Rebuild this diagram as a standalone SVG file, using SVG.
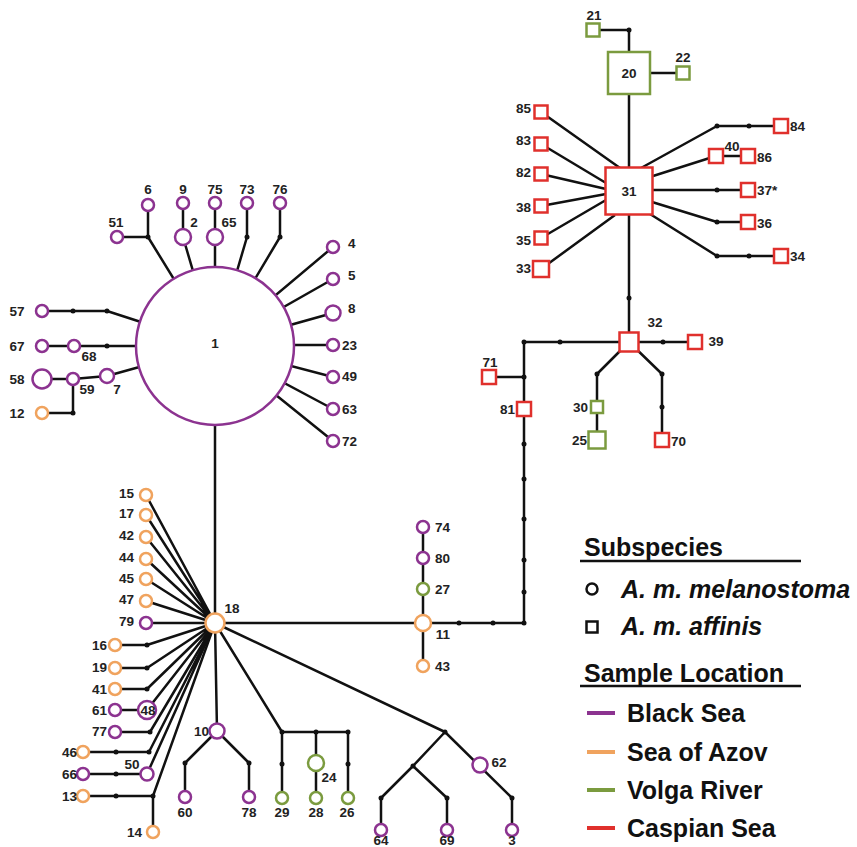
<svg xmlns="http://www.w3.org/2000/svg" width="857" height="847" viewBox="0 0 857 847">
<style>
.ln{stroke:#111;stroke-width:2.5;fill:none;stroke-linejoin:round}
.dot{fill:#111}
.bs{fill:#fff;stroke:#8c3390;stroke-width:2.5}
.az{fill:#fff;stroke:#f0a35e;stroke-width:2.5}
.vr{fill:#fff;stroke:#7b9b3f;stroke-width:2.5}
.cs{fill:#fff;stroke:#e0302c;stroke-width:2.5}
.t{font-family:"Liberation Sans",Arial,sans-serif;font-weight:bold;font-size:13.5px;fill:#222;dominant-baseline:central}
.m{text-anchor:middle}
.e{text-anchor:end}
.lg{font-family:"Liberation Sans",Arial,sans-serif;font-weight:bold;font-size:25px;fill:#111}
</style>
<rect width="857" height="847" fill="#fff"/>
<g id="connectors">
<path class="ln" d="M117,237H148V205M148,237L215,346"/>
<path class="ln" d="M183,203V237L215,346"/>
<path class="ln" d="M215,203V346"/>
<path class="ln" d="M247,203V237L215,346"/>
<path class="ln" d="M280,203V237L215,346"/>
<path class="ln" d="M333,247L215,346M333,279L215,346M333,313L215,346M333,345H215M333,377L215,346M333,409L215,346M333,441L215,346"/>
<path class="ln" d="M42,311H107L215,346"/>
<path class="ln" d="M42,346H215"/>
<path class="ln" d="M42,379H73L107,376L215,346"/>
<path class="ln" d="M42,413H73V379"/>
<path class="ln" d="M215,346V623"/>
<path class="ln" d="M146,495L215,623M146,515L215,623M146,537L215,623M146,559L215,623M146,579L215,623M146,601L215,623M146,623H215"/>
<path class="ln" d="M115,645H147L215,623M115,668H147L215,623M115,689H147L215,623"/>
<path class="ln" d="M115,710H147L215,623M115,732H150L215,623"/>
<path class="ln" d="M83,752H149L215,623M83,774H147L215,623"/>
<path class="ln" d="M83,796H153L215,623M153,796V832"/>
<path class="ln" d="M215,623L217,731M217,731L185,763V797M217,731L249,763V797"/>
<path class="ln" d="M215,623L282,732H348V798M282,732V798M316,732V798"/>
<path class="ln" d="M215,623L445,732L512,798V830M445,732L413,766L381,798V830M413,766L447,798V830"/>
<path class="ln" d="M215,623H524V342H629M423,527V666"/>
<path class="ln" d="M489,377H524"/>
<path class="ln" d="M629,342H695M629,342L597,374V440M629,342L662,374V440"/>
<path class="ln" d="M629,342V30H593M629,73H683"/>
<path class="ln" d="M541,112L620,168M541,144L606,183M541,174L606,189M541,206L606,194M541,238L606,200M541,269L615,215"/>
<path class="ln" d="M641,168L717,126H781M653,176L716,156H748M652,190H748M652,202L717,222H748M650,214L717,256H781"/>
<g class="dot">
<circle cx="148" cy="237" r="2.5"/><circle cx="247" cy="237" r="2.5"/><circle cx="280" cy="237" r="2.5"/>
<circle cx="73" cy="311" r="2.5"/><circle cx="107" cy="311" r="2.5"/><circle cx="107" cy="346" r="2.5"/><circle cx="73" cy="413" r="2.5"/>
<circle cx="147" cy="645" r="2.5"/><circle cx="147" cy="668" r="2.5"/><circle cx="147" cy="689" r="2.5"/><circle cx="150" cy="732" r="2.5"/>
<circle cx="116" cy="752" r="2.5"/><circle cx="149" cy="752" r="2.5"/><circle cx="116" cy="774" r="2.5"/><circle cx="116" cy="796" r="2.5"/><circle cx="153" cy="796" r="2.5"/>
<circle cx="185" cy="763" r="2.5"/><circle cx="249" cy="763" r="2.5"/>
<circle cx="282" cy="732" r="2.5"/><circle cx="316" cy="732" r="2.5"/><circle cx="348" cy="732" r="2.5"/><circle cx="282" cy="764" r="2.5"/><circle cx="348" cy="764" r="2.5"/>
<circle cx="445" cy="732" r="2.5"/><circle cx="413" cy="766" r="2.5"/><circle cx="381" cy="798" r="2.5"/><circle cx="447" cy="798" r="2.5"/><circle cx="512" cy="798" r="2.5"/>
<circle cx="459" cy="623" r="2.5"/><circle cx="493" cy="623" r="2.5"/><circle cx="524" cy="623" r="2.5"/>
<circle cx="524" cy="592" r="2.5"/><circle cx="524" cy="560" r="2.5"/><circle cx="524" cy="519" r="2.5"/><circle cx="524" cy="479" r="2.5"/><circle cx="524" cy="444" r="2.5"/>
<circle cx="524" cy="377" r="2.5"/><circle cx="524" cy="342" r="2.5"/><circle cx="560" cy="342" r="2.5"/>
<circle cx="663" cy="342" r="2.5"/><circle cx="597" cy="374" r="2.5"/><circle cx="662" cy="374" r="2.5"/><circle cx="662" cy="407" r="2.5"/>
<circle cx="629" cy="298" r="2.5"/><circle cx="629" cy="30" r="2.5"/>
<circle cx="717" cy="126" r="2.5"/><circle cx="749" cy="126" r="2.5"/><circle cx="717" cy="190" r="2.5"/><circle cx="717" cy="222" r="2.5"/><circle cx="717" cy="256" r="2.5"/><circle cx="749" cy="256" r="2.5"/>
</g>
</g>
<g id="n1"><circle class="bs" cx="215" cy="346" r="79"/><text class="t m" x="215" y="343">1</text></g>
<g id="n6"><circle class="bs" cx="148" cy="205" r="6"/><text class="t m" x="148" y="189">6</text></g>
<g id="n51"><circle class="bs" cx="117" cy="237" r="6"/><text class="t m" x="116" y="222">51</text></g>
<g id="n9"><circle class="bs" cx="183" cy="203" r="6"/><text class="t m" x="183" y="189">9</text></g>
<g id="n2"><circle class="bs" cx="183" cy="237" r="8"/><text class="t m" x="194" y="222">2</text></g>
<g id="n75"><circle class="bs" cx="215" cy="203" r="6"/><text class="t m" x="215" y="189">75</text></g>
<g id="n65"><circle class="bs" cx="215" cy="237" r="8"/><text class="t m" x="229" y="222">65</text></g>
<g id="n73"><circle class="bs" cx="247" cy="203" r="6"/><text class="t m" x="247" y="189">73</text></g>
<g id="n76"><circle class="bs" cx="280" cy="203" r="6"/><text class="t m" x="280" y="189">76</text></g>
<g id="n4"><circle class="bs" cx="333" cy="247" r="6"/><text class="t" x="348" y="243">4</text></g>
<g id="n5"><circle class="bs" cx="333" cy="279" r="6"/><text class="t" x="348" y="275">5</text></g>
<g id="n8"><circle class="bs" cx="333" cy="313" r="7.5"/><text class="t" x="348" y="308">8</text></g>
<g id="n23"><circle class="bs" cx="333" cy="345" r="6"/><text class="t" x="342" y="345">23</text></g>
<g id="n49"><circle class="bs" cx="333" cy="377" r="6"/><text class="t" x="342" y="376">49</text></g>
<g id="n63"><circle class="bs" cx="333" cy="409" r="6"/><text class="t" x="342" y="409">63</text></g>
<g id="n72"><circle class="bs" cx="333" cy="441" r="6"/><text class="t" x="342" y="441">72</text></g>
<g id="n57"><circle class="bs" cx="42" cy="311" r="6"/><text class="t m" x="17" y="311">57</text></g>
<g id="n67"><circle class="bs" cx="42" cy="346" r="6"/><text class="t m" x="17" y="346">67</text></g>
<g id="n68"><circle class="bs" cx="74" cy="346" r="6"/><text class="t m" x="89" y="356">68</text></g>
<g id="n58"><circle class="bs" cx="42" cy="379" r="9.5"/><text class="t m" x="17" y="379">58</text></g>
<g id="n59"><circle class="bs" cx="73" cy="379" r="6"/><text class="t m" x="87" y="389">59</text></g>
<g id="n7"><circle class="bs" cx="107" cy="376" r="7"/><text class="t m" x="117" y="389">7</text></g>
<g id="n12"><circle class="az" cx="42" cy="413" r="6"/><text class="t m" x="17" y="413">12</text></g>
<g id="n18"><circle class="az" cx="215" cy="623" r="9.5"/><text class="t m" x="232" y="608">18</text></g>
<g id="n15"><circle class="az" cx="146" cy="495" r="6"/><text class="t e" x="134" y="493">15</text></g>
<g id="n17"><circle class="az" cx="146" cy="515" r="6"/><text class="t e" x="134" y="513">17</text></g>
<g id="n42"><circle class="az" cx="146" cy="537" r="6"/><text class="t e" x="134" y="535">42</text></g>
<g id="n44"><circle class="az" cx="146" cy="559" r="6"/><text class="t e" x="134" y="557">44</text></g>
<g id="n45"><circle class="az" cx="146" cy="579" r="6"/><text class="t e" x="134" y="578">45</text></g>
<g id="n47"><circle class="az" cx="146" cy="601" r="6"/><text class="t e" x="134" y="599">47</text></g>
<g id="n79"><circle class="bs" cx="146" cy="623" r="6"/><text class="t e" x="134" y="621">79</text></g>
<g id="n16"><circle class="az" cx="115" cy="645" r="6"/><text class="t e" x="107" y="645">16</text></g>
<g id="n19"><circle class="az" cx="115" cy="668" r="6"/><text class="t e" x="107" y="667">19</text></g>
<g id="n41"><circle class="az" cx="115" cy="689" r="6"/><text class="t e" x="107" y="689">41</text></g>
<g id="n61"><circle class="bs" cx="115" cy="710" r="6"/><text class="t e" x="107" y="710">61</text></g>
<g id="n48"><circle class="bs" cx="147" cy="710" r="9"/><text class="t m" x="148" y="710">48</text></g>
<g id="n77"><circle class="bs" cx="115" cy="732" r="6"/><text class="t e" x="107" y="731">77</text></g>
<g id="n46"><circle class="az" cx="83" cy="752" r="6"/><text class="t e" x="77" y="752">46</text></g>
<g id="n66"><circle class="bs" cx="83" cy="774" r="6"/><text class="t e" x="77" y="774">66</text></g>
<g id="n50"><circle class="bs" cx="147" cy="774" r="6.5"/><text class="t m" x="132" y="764">50</text></g>
<g id="n13"><circle class="az" cx="83" cy="796" r="6"/><text class="t e" x="77" y="796">13</text></g>
<g id="n14"><circle class="az" cx="153" cy="832" r="6"/><text class="t e" x="142" y="832">14</text></g>
<g id="n10"><circle class="bs" cx="217" cy="731" r="7.5"/><text class="t e" x="209" y="731">10</text></g>
<g id="n60"><circle class="bs" cx="185" cy="797" r="6"/><text class="t m" x="185" y="812">60</text></g>
<g id="n78"><circle class="bs" cx="249" cy="797" r="6"/><text class="t m" x="249" y="812">78</text></g>
<g id="n29"><circle class="vr" cx="282" cy="798" r="6"/><text class="t m" x="282" y="812">29</text></g>
<g id="n24"><circle class="vr" cx="316" cy="763" r="8"/><text class="t m" x="329" y="777">24</text></g>
<g id="n28"><circle class="vr" cx="316" cy="798" r="6"/><text class="t m" x="316" y="812">28</text></g>
<g id="n26"><circle class="vr" cx="348" cy="798" r="6"/><text class="t m" x="347" y="812">26</text></g>
<g id="n62"><circle class="bs" cx="480" cy="765" r="7.5"/><text class="t m" x="499" y="762">62</text></g>
<g id="n64"><circle class="bs" cx="381" cy="830" r="6"/><text class="t m" x="381" y="840">64</text></g>
<g id="n69"><circle class="bs" cx="447" cy="830" r="6"/><text class="t m" x="447" y="840">69</text></g>
<g id="n3"><circle class="bs" cx="512" cy="830" r="6"/><text class="t m" x="512" y="840">3</text></g>
<g id="n11"><circle class="az" cx="423" cy="623" r="8"/><text class="t m" x="443" y="634">11</text></g>
<g id="n43"><circle class="az" cx="423" cy="666" r="6"/><text class="t" x="435" y="666">43</text></g>
<g id="n27"><circle class="vr" cx="423" cy="589" r="6"/><text class="t" x="435" y="589">27</text></g>
<g id="n80"><circle class="bs" cx="423" cy="558" r="6"/><text class="t" x="435" y="558">80</text></g>
<g id="n74"><circle class="bs" cx="423" cy="527" r="6"/><text class="t" x="435" y="527">74</text></g>
<g id="n81"><rect class="cs" x="517" y="402" width="14" height="14"/><text class="t e" x="515" y="409">81</text></g>
<g id="n71"><rect class="cs" x="482" y="370" width="14" height="14"/><text class="t m" x="490" y="362">71</text></g>
<g id="n32"><rect class="cs" x="619.5" y="332.5" width="19" height="19"/><text class="t m" x="655" y="322">32</text></g>
<g id="n39"><rect class="cs" x="688" y="335" width="14" height="14"/><text class="t m" x="716" y="341">39</text></g>
<g id="n30"><rect class="vr" x="591" y="401" width="12" height="12"/><text class="t e" x="588" y="407">30</text></g>
<g id="n25"><rect class="vr" x="588.5" y="431.5" width="17" height="17"/><text class="t e" x="587" y="440">25</text></g>
<g id="n70"><rect class="cs" x="655" y="433" width="14" height="14"/><text class="t" x="671" y="441">70</text></g>
<g id="n31"><rect class="cs" x="605.5" y="167.5" width="47" height="47"/><text class="t m" x="629" y="191">31</text></g>
<g id="n20"><rect class="vr" x="608" y="52" width="42" height="42"/><text class="t m" x="629" y="73">20</text></g>
<g id="n21"><rect class="vr" x="586.5" y="23.5" width="13" height="13"/><text class="t m" x="594" y="15">21</text></g>
<g id="n22"><rect class="vr" x="676.5" y="66.5" width="13" height="13"/><text class="t m" x="683" y="57">22</text></g>
<g id="n85"><rect class="cs" x="534.5" y="105.5" width="13" height="13"/><text class="t e" x="531" y="108">85</text></g>
<g id="n83"><rect class="cs" x="534.5" y="137.5" width="13" height="13"/><text class="t e" x="531" y="140">83</text></g>
<g id="n82"><rect class="cs" x="534.5" y="167.5" width="13" height="13"/><text class="t e" x="531" y="172">82</text></g>
<g id="n38"><rect class="cs" x="534.5" y="199.5" width="13" height="13"/><text class="t e" x="531" y="207">38</text></g>
<g id="n35"><rect class="cs" x="534.5" y="231.5" width="13" height="13"/><text class="t e" x="531" y="240">35</text></g>
<g id="n33"><rect class="cs" x="533" y="261" width="16" height="16"/><text class="t e" x="531" y="268">33</text></g>
<g id="n84"><rect class="cs" x="774" y="119" width="14" height="14"/><text class="t" x="790" y="126">84</text></g>
<g id="n40"><rect class="cs" x="709" y="149" width="14" height="14"/><text class="t m" x="732" y="146">40</text></g>
<g id="n86"><rect class="cs" x="741" y="149" width="14" height="14"/><text class="t" x="757" y="157">86</text></g>
<g id="n37"><rect class="cs" x="741" y="183" width="14" height="14"/><text class="t" x="757" y="190">37*</text></g>
<g id="n36"><rect class="cs" x="741" y="215" width="14" height="14"/><text class="t" x="757" y="223">36</text></g>
<g id="n34"><rect class="cs" x="774" y="249" width="14" height="14"/><text class="t" x="790" y="256">34</text></g>
<g id="legend">
<text class="lg" x="584" y="556">Subspecies</text>
<line x1="580" y1="561" x2="801" y2="561" stroke="#111" stroke-width="2.5"/>
<circle cx="592" cy="589" r="5.5" fill="none" stroke="#111" stroke-width="2.5"/>
<text class="lg" x="621" y="598" font-style="italic">A. m. melanostoma</text>
<rect x="586.5" y="621.5" width="11" height="11" fill="none" stroke="#111" stroke-width="2.5"/>
<text class="lg" x="621" y="635" font-style="italic">A. m. affinis</text>
<text class="lg" x="584" y="682">Sample Location</text>
<line x1="580" y1="686" x2="801" y2="686" stroke="#111" stroke-width="2.5"/>
<line x1="587" y1="713" x2="615" y2="713" stroke="#8c3390" stroke-width="4"/>
<text class="lg" x="627" y="722">Black Sea</text>
<line x1="587" y1="752" x2="615" y2="752" stroke="#f0a35e" stroke-width="4"/>
<text class="lg" x="627" y="761">Sea of Azov</text>
<line x1="587" y1="790" x2="615" y2="790" stroke="#7b9b3f" stroke-width="4"/>
<text class="lg" x="627" y="799">Volga River</text>
<line x1="587" y1="828" x2="615" y2="828" stroke="#e0302c" stroke-width="4"/>
<text class="lg" x="627" y="837">Caspian Sea</text>
</g>
</svg>
